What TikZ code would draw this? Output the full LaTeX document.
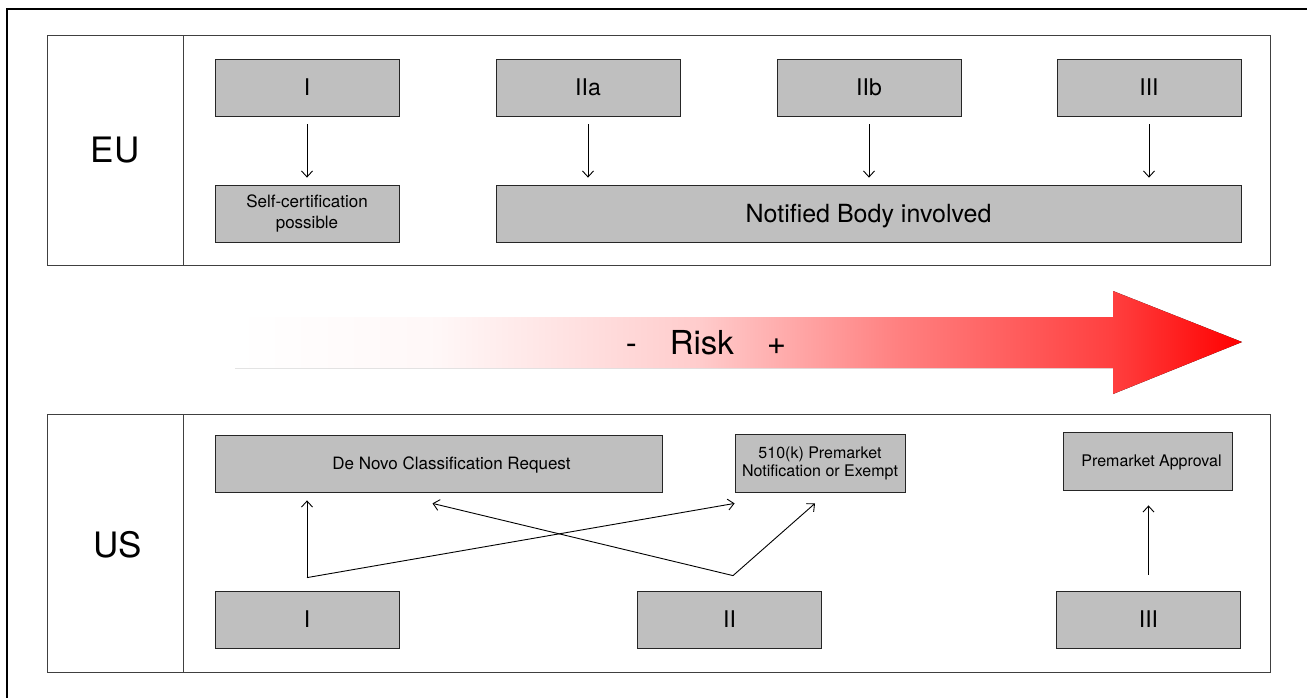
\documentclass[tikz,border=0pt]{standalone}
\usepackage{fontspec}
\setmainfont{TeX Gyre Heros}
\usetikzlibrary{arrows,arrows.meta}
\usetikzlibrary{positioning}

\pgfdeclarehorizontalshading{riskshade}{100bp}{color(0bp)=(white); color(25bp)=(white); color(35bp)=(red!3); color(48bp)=(red!20); color(58bp)=(red!50); color(68.5bp)=(red!75); color(75bp)=(red); color(100bp)=(red)}

\begin{document}
\begin{tikzpicture}[x=1pt,y=-1pt,
  >={Straight Barb[length=6pt,width=11pt]},
  box/.style={draw=black!85, line width=0.8pt, fill=gray!50, inner sep=0pt},
  wide/.style={box, minimum width=184pt, minimum height=57pt},
  roman/.style={font=\fontsize{23}{26}\selectfont},
  small/.style={font=\fontsize{16}{18}\selectfont, align=center},
  region/.style={font=\fontsize{35}{40}\selectfont},
  panel/.style={draw=black!75, line width=0.9pt},
  link/.style={->, line width=0.9pt}]
\useasboundingbox (0,0) rectangle (1307,697);
\draw[line width=2pt] (7,710) -- (7,9) -- (1320,9);

% EU
\draw[panel] (47,35) rectangle (1270,265);
\draw[panel] (183,35) -- (183,265);
\node[region] (eu) at (115,150) {EU};
\node[wide, roman] (euI) at (307,87.5) {I};
\node[wide, roman] (euIIa) at (588,87.5) {IIa};
\node[wide, roman] (euIIb) at (869,87.5) {IIb};
\node[wide, roman] (euIII) at (1149,87.5) {III};
\node[wide, small, font=\fontsize{17}{21}\selectfont] (self) at (307,213.5) {Self-certification\\possible};
\node[box, font=\fontsize{25}{28}\selectfont, text depth=0pt, minimum width=745pt, minimum height=57pt] (nb) at (868.5,213.5) {Notified Body involved};
\draw[link, shorten <=8pt, shorten >=7pt] (euI) -- (self);
\foreach \n in {euIIa,euIIb,euIII}
  \draw[link, shorten <=8pt, shorten >=7pt] (\n.south) -- (\n.south |- nb.north);

% risk
\fill[shading=riskshade] (235,317) -- (1113,317) -- (1113,291) -- (1242,342)
  -- (1113,394) -- (1113,368) -- (235,368) -- cycle;
\node[region, font=\fontsize{33}{36}\selectfont] (risk) at (706,343) {-\quad Risk\quad +};

% US
\draw[panel] (47,414) rectangle (1270,672);
\draw[panel] (183,414) -- (183,672);
\node[region] (us) at (118,545) {US};
\node[wide, roman] (usI) at (307,619.5) {I};
\node[wide, roman] (usII) at (729.5,619.5) {II};
\node[wide, roman] (usIII) at (1148.5,619.5) {III};
\node[box, small, font=\fontsize{17}{20}\selectfont, text depth=0pt, minimum width=447pt, minimum height=57pt] (denovo) at (438.5,463.5) {\hspace*{26pt}De Novo Classification Request};
\node[box, small, minimum width=170pt, minimum height=58pt] (pmn) at (820,463) {510(k) Premarket\\Notification or Exempt};
\node[box, small, text depth=0pt, minimum width=169pt, minimum height=58pt] (pma) at (1147.5,461) {\hspace*{8pt}Premarket Approval};

\coordinate[above=13pt of usI.north] (forkI);
\coordinate[above=15pt of usII.north, xshift=3.5pt] (forkII);
\draw[link, shorten >=8pt] (forkI) -- (forkI |- denovo.south);
\draw[link] (forkI) -- ([yshift=-11pt]pmn.south west);
\draw[link] (forkII) -- ([xshift=-6pt,yshift=-11pt]denovo.south);
\draw[link] (forkII) -- ([xshift=-5pt,yshift=-11pt]pmn.south);
\draw[link, shorten <=16pt, shorten >=15pt] (usIII.north) -- (usIII.north |- pma.south);
\end{tikzpicture}
\end{document}
